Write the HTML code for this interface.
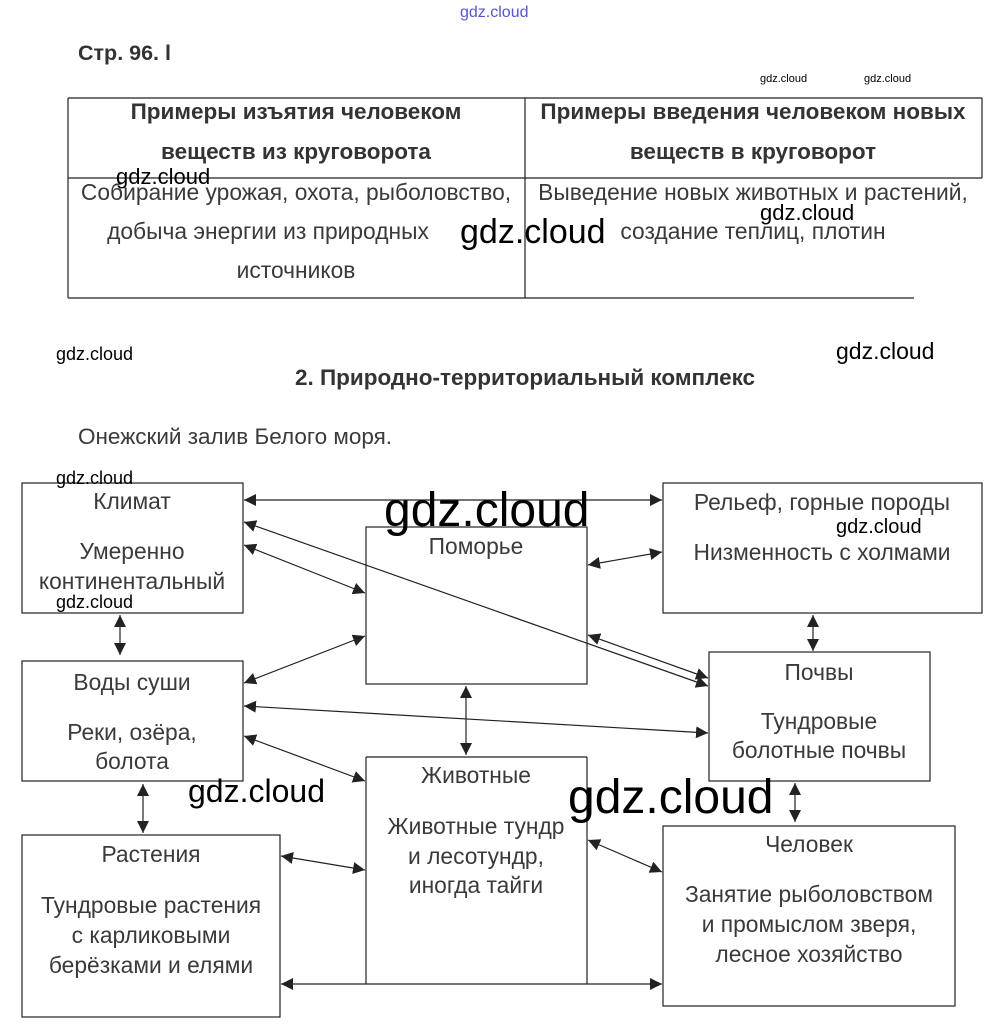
<!DOCTYPE html>
<html><head><meta charset="utf-8"><style>
html,body{margin:0;padding:0;background:#fff;}
svg{display:block;}
.t{font-family:"Liberation Sans",Arial,sans-serif;font-size:22.8px;fill:#3a3a3a;text-anchor:middle;}
.b{font-family:"Liberation Sans",Arial,sans-serif;font-size:22.5px;font-weight:bold;fill:#333;text-anchor:middle;}
.w{font-family:"Liberation Sans",Arial,sans-serif;fill:#000;}
</style></head><body>
<svg width="993" height="1027" viewBox="0 0 993 1027" xmlns="http://www.w3.org/2000/svg">
<defs>
<marker id="a" viewBox="0 0 10 10" refX="10" refY="5" markerWidth="12" markerHeight="12" markerUnits="userSpaceOnUse" orient="auto-start-reverse"><path d="M0,0 L10,5 L0,10 z" fill="#222"/></marker>
</defs>
<text x="460" y="17" font-family="Liberation Sans" font-size="16" fill="#5555cc">gdz.cloud</text>
<text x="78" y="60" font-family="Liberation Sans" font-size="21.5" font-weight="bold" fill="#333">Стр. 96. l</text>
<text x="760" y="82" class="w" font-size="11">gdz.cloud</text>
<text x="864" y="82" class="w" font-size="11">gdz.cloud</text>
<g stroke="#222" stroke-width="1.2" fill="none">
<line x1="68" y1="98" x2="982" y2="98"/>
<line x1="68" y1="178" x2="982" y2="178"/>
<line x1="68" y1="298" x2="914" y2="298"/>
<line x1="68" y1="98" x2="68" y2="298"/>
<line x1="525" y1="98" x2="525" y2="298"/>
<line x1="982" y1="98" x2="982" y2="178"/>
</g>
<text class="b" x="296" y="119">Примеры изъятия человеком</text>
<text class="b" x="296" y="159">веществ из круговорота</text>
<text class="b" x="753" y="119">Примеры введения человеком новых</text>
<text class="b" x="753" y="159">веществ в круговорот</text>
<text class="t" x="296" y="200">Собирание урожая, охота, рыболовство,</text>
<text class="t" x="268" y="239">добыча энергии из природных</text>
<text class="t" x="296" y="278">источников</text>
<text class="t" x="753" y="200">Выведение новых животных и растений,</text>
<text class="t" x="753" y="239">создание теплиц, плотин</text>
<text x="116" y="184" class="w" font-size="22">gdz.cloud</text>
<text x="460" y="243" class="w" font-size="34">gdz.cloud</text>
<text x="760" y="220" class="w" font-size="22">gdz.cloud</text>
<text x="56" y="360" class="w" font-size="18">gdz.cloud</text>
<text x="836" y="359" class="w" font-size="23">gdz.cloud</text>
<text class="b" x="525" y="385">2. Природно-территориальный комплекс</text>
<text x="78" y="444" font-family="Liberation Sans" font-size="22.5" fill="#3a3a3a">Онежский залив Белого моря.</text>
<g stroke="#222" stroke-width="1.2" fill="none">
<rect x="22" y="483" width="221" height="130"/>
<rect x="663" y="483" width="319" height="130"/>
<rect x="366" y="527" width="221" height="157"/>
<rect x="22" y="661" width="221" height="120"/>
<rect x="709" y="652" width="221" height="129"/>
<line x1="366" y1="757" x2="587" y2="757"/>
<line x1="366" y1="757" x2="366" y2="984"/>
<line x1="587" y1="757" x2="587" y2="984"/>
<rect x="22" y="835" width="258" height="182"/>
<rect x="663" y="826" width="292" height="180"/>
</g>
<g stroke="#222" stroke-width="1.2" marker-start="url(#a)" marker-end="url(#a)">
<line x1="244" y1="500" x2="662" y2="500"/>
<line x1="244" y1="522" x2="708" y2="686"/>
<line x1="244" y1="545" x2="365" y2="593"/>
<line x1="588" y1="565" x2="662" y2="552"/>
<line x1="120" y1="615" x2="120" y2="655"/>
<line x1="244" y1="683" x2="365" y2="636"/>
<line x1="588" y1="635" x2="708" y2="678"/>
<line x1="244" y1="706" x2="708" y2="733"/>
<line x1="466" y1="686" x2="466" y2="755"/>
<line x1="244" y1="736" x2="365" y2="781"/>
<line x1="813" y1="615" x2="813" y2="651"/>
<line x1="143" y1="784" x2="143" y2="833"/>
<line x1="795" y1="783" x2="795" y2="822"/>
<line x1="281" y1="856" x2="365" y2="870"/>
<line x1="588" y1="840" x2="662" y2="872"/>
<line x1="281" y1="984" x2="662" y2="984"/>
</g>
<text class="t" x="132" y="509">Климат</text>
<text class="t" x="132" y="559">Умеренно</text>
<text class="t" x="132" y="589">континентальный</text>
<text class="t" x="822" y="510">Рельеф, горные породы</text>
<text class="t" x="822" y="560">Низменность с холмами</text>
<text class="t" x="476" y="554">Поморье</text>
<text class="t" x="132" y="690">Воды суши</text>
<text class="t" x="132" y="740">Реки, озёра,</text>
<text class="t" x="132" y="769">болота</text>
<text class="t" x="819" y="680">Почвы</text>
<text class="t" x="819" y="729">Тундровые</text>
<text class="t" x="819" y="758">болотные почвы</text>
<text class="t" x="476" y="783">Животные</text>
<text class="t" x="476" y="834">Животные тундр</text>
<text class="t" x="476" y="864">и лесотундр,</text>
<text class="t" x="476" y="893">иногда тайги</text>
<text class="t" x="151" y="862">Растения</text>
<text class="t" x="151" y="913">Тундровые растения</text>
<text class="t" x="151" y="943">с карликовыми</text>
<text class="t" x="151" y="973">берёзками и елями</text>
<text class="t" x="809" y="852">Человек</text>
<text class="t" x="809" y="902">Занятие рыболовством</text>
<text class="t" x="809" y="932">и промыслом зверя,</text>
<text class="t" x="809" y="962">лесное хозяйство</text>
<text x="56" y="484" class="w" font-size="18">gdz.cloud</text>
<text x="56" y="608" class="w" font-size="18">gdz.cloud</text>
<text x="384" y="526" class="w" font-size="48">gdz.cloud</text>
<text x="836" y="533" class="w" font-size="20">gdz.cloud</text>
<text x="188" y="802" class="w" font-size="32">gdz.cloud</text>
<text x="568" y="813" class="w" font-size="48">gdz.cloud</text>
</svg>
</body></html>
